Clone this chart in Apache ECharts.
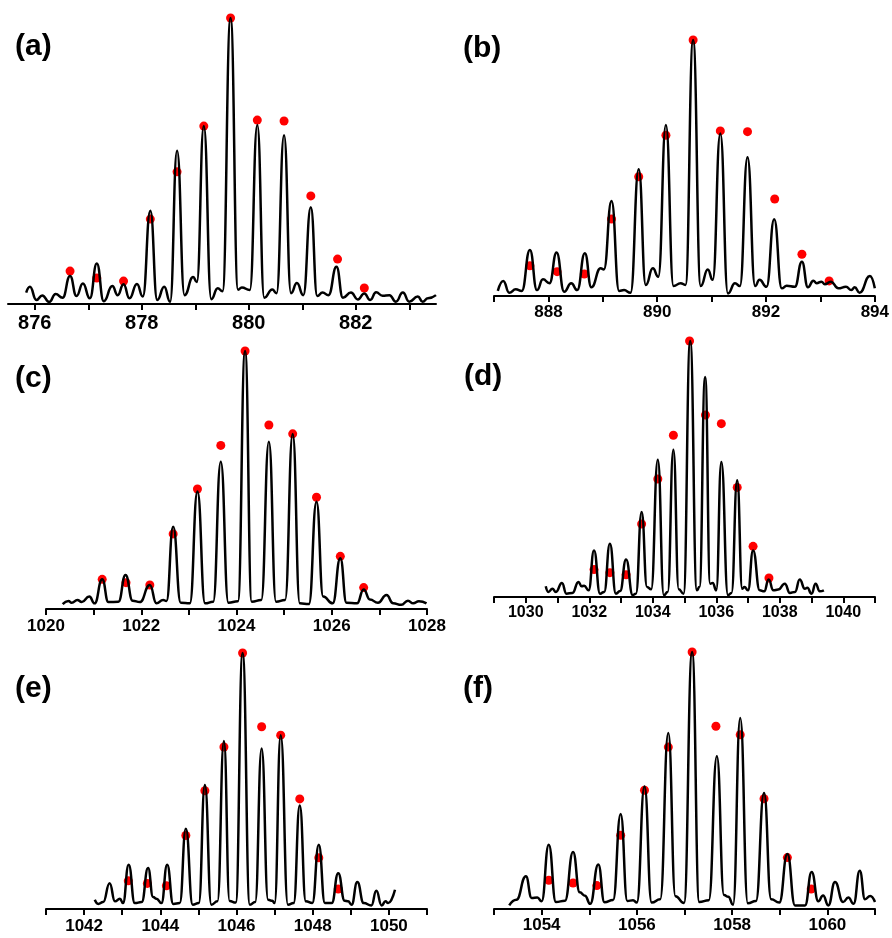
<!DOCTYPE html>
<html>
<head>
<meta charset="utf-8">
<script src="https://cdn.jsdelivr.net/npm/echarts@6/dist/echarts.min.js"></script>
<style>
html, body { margin: 0; padding: 0; background: #fff; }
#main { width: 892px; height: 938px; }
</style>
</head>
<body>
<div id="main"></div>
<script>
// measured spectra, intensity in % of the base peak of each panel
var traceA = [[875.84, 4.0], [875.91, 6.0], [876.03, 1.4], [876.14, 3.0], [876.27, 0.7], [876.39, 3.5], [876.52, 2.2], [876.66, 9.8], [876.78, 2.8], [876.90, 7.2], [877.03, 2.0], [877.16, 14.2], [877.29, 1.0], [877.45, 6.3], [877.55, 3.1], [877.66, 6.9], [877.77, 2.0], [877.91, 7.0], [878.02, 2.6], [878.16, 32.6], [878.29, 1.4], [878.42, 6.0], [878.53, 0.8], [878.66, 53.6], [878.80, 3.1], [878.96, 9.4], [879.03, 7.7], [879.16, 62.2], [879.30, 1.7], [879.42, 5.5], [879.51, 4.5], [879.66, 100], [879.80, 5.0], [879.87, 5.8], [880.02, 4.9], [880.16, 62.6], [880.29, 2.2], [880.44, 5.1], [880.52, 3.8], [880.66, 59.0], [880.79, 3.8], [880.90, 7.3], [881.02, 3.1], [881.16, 33.8], [881.28, 2.8], [881.38, 4.0], [881.49, 3.1], [881.64, 13.0], [881.76, 2.2], [881.91, 4.0], [882.04, 1.6], [882.16, 3.7], [882.27, 1.4], [882.38, 4.1], [882.50, 2.9], [882.63, 3.1], [882.75, 0.8], [882.88, 4.0], [883.00, 0.8], [883.16, 2.6], [883.25, 0.8], [883.35, 2.0], [883.50, 3.1]];
var dotsA = [[876.66, 11.5], [877.16, 9.1], [877.66, 8.0], [878.16, 29.7], [878.66, 46.2], [879.16, 62.2], [879.66, 100], [880.16, 64.3], [880.66, 64.0], [881.16, 37.8], [881.66, 15.7], [882.16, 5.6]];

var traceB = [[887.07, 2.0], [887.17, 5.9], [887.28, 1.3], [887.40, 2.6], [887.51, 2.0], [887.66, 18.0], [887.79, 2.3], [887.90, 6.5], [888.02, 5.0], [888.15, 17.0], [888.29, 1.7], [888.42, 5.0], [888.53, 2.3], [888.67, 16.7], [888.79, 3.4], [888.96, 10.8], [889.02, 10.4], [889.16, 37.1], [889.30, 2.0], [889.39, 2.3], [889.51, 1.3], [889.66, 49.5], [889.79, 4.3], [889.92, 10.8], [890.02, 7.5], [890.16, 66.8], [890.30, 3.9], [890.43, 5.0], [890.52, 4.3], [890.66, 100], [890.80, 3.9], [890.93, 10.4], [891.02, 6.3], [891.16, 63.5], [891.30, 1.0], [891.43, 5.0], [891.52, 3.9], [891.66, 54.2], [891.80, 3.9], [891.88, 6.3], [892.01, 3.6], [892.15, 30.0], [892.29, 3.0], [892.38, 4.0], [892.53, 3.6], [892.66, 13.4], [892.77, 3.4], [892.87, 6.0], [892.93, 5.0], [893.02, 5.6], [893.08, 4.6], [893.19, 5.6], [893.33, 3.0], [893.47, 3.6], [893.57, 2.3], [893.63, 3.4], [893.72, 1.3], [893.91, 7.8], [894.00, 3.0]];
var dotsB = [[887.66, 11.8], [888.16, 9.5], [888.66, 8.6], [889.16, 30.1], [889.66, 46.6], [890.16, 62.8], [890.66, 100], [891.16, 64.5], [891.66, 64.2], [892.16, 37.9], [892.66, 16.3], [893.16, 5.9]];

var traceC = [[1020.35, 1.9], [1020.47, 3.1], [1020.54, 2.4], [1020.66, 3.5], [1020.75, 2.7], [1020.91, 4.8], [1021.02, 2.2], [1021.18, 11.5], [1021.31, 2.7], [1021.52, 2.8], [1021.67, 13.2], [1021.82, 3.2], [1021.97, 2.7], [1022.18, 9.3], [1022.32, 2.2], [1022.46, 3.5], [1022.53, 3.1], [1022.67, 31.9], [1022.83, 2.4], [1023.02, 2.2], [1023.18, 45.5], [1023.34, 2.2], [1023.51, 2.8], [1023.67, 57.1], [1023.83, 2.4], [1024.03, 3.0], [1024.18, 100], [1024.32, 2.8], [1024.52, 3.5], [1024.68, 64.8], [1024.83, 2.8], [1025.02, 3.5], [1025.18, 67.8], [1025.33, 2.2], [1025.52, 1.9], [1025.68, 41.6], [1025.82, 4.8], [1026.02, 2.2], [1026.18, 19.7], [1026.31, 2.4], [1026.53, 2.2], [1026.67, 7.6], [1026.80, 3.7], [1026.97, 2.4], [1027.15, 5.4], [1027.29, 2.2], [1027.46, 1.6], [1027.60, 3.2], [1027.71, 2.2], [1027.83, 3.0], [1027.99, 2.2]];
var dotsC = [[1021.18, 11.5], [1021.68, 10.2], [1022.18, 9.3], [1022.67, 29.1], [1023.18, 46.5], [1023.67, 63.4], [1024.18, 100], [1024.68, 71.3], [1025.18, 67.9], [1025.68, 43.3], [1026.18, 20.4], [1026.67, 8.3]];

var traceD = [[1030.63, 4.2], [1030.71, 2.0], [1030.84, 3.2], [1030.95, 2.0], [1031.14, 5.5], [1031.28, 1.3], [1031.47, 1.6], [1031.66, 5.9], [1031.76, 4.2], [1031.84, 4.4], [1031.98, 2.6], [1032.15, 18.2], [1032.34, 1.3], [1032.47, 2.0], [1032.65, 20.8], [1032.84, 1.3], [1032.97, 2.3], [1033.16, 14.6], [1033.37, 0.7], [1033.47, 1.3], [1033.65, 33.2], [1033.82, 3.9], [1033.95, 3.0], [1034.16, 53.6], [1034.35, 0.7], [1034.47, 2.0], [1034.65, 57.5], [1034.82, 3.0], [1034.97, 1.3], [1035.18, 100], [1035.39, 2.6], [1035.47, 3.9], [1035.65, 85.9], [1035.81, 5.2], [1035.89, 5.5], [1036.00, 2.6], [1036.16, 52.7], [1036.37, 0.7], [1036.48, 1.6], [1036.66, 45.6], [1036.82, 3.2], [1036.89, 3.9], [1037.00, 2.6], [1037.16, 18.2], [1037.37, 2.6], [1037.51, 2.2], [1037.65, 6.8], [1037.80, 2.6], [1037.95, 2.9], [1038.16, 5.2], [1038.32, 1.6], [1038.48, 2.0], [1038.63, 6.8], [1038.79, 3.2], [1038.87, 3.6], [1039.00, 1.3], [1039.13, 5.2], [1039.26, 2.2], [1039.39, 2.6]];
var dotsD = [[1032.15, 10.7], [1032.65, 9.5], [1033.16, 8.7], [1033.65, 28.5], [1034.16, 46.1], [1034.65, 63.2], [1035.16, 100], [1035.66, 71.1], [1036.16, 67.7], [1036.66, 42.8], [1037.16, 19.8], [1037.66, 7.4]];

var traceE = [[1042.28, 3.6], [1042.37, 2.0], [1042.50, 2.7], [1042.67, 10.1], [1042.81, 3.0], [1042.94, 4.0], [1043.02, 2.3], [1043.17, 17.3], [1043.33, 2.3], [1043.51, 2.7], [1043.68, 16.0], [1043.81, 4.7], [1043.90, 4.0], [1044.03, 2.3], [1044.18, 17.3], [1044.34, 2.0], [1044.51, 2.3], [1044.67, 31.3], [1044.85, 1.7], [1045.01, 2.3], [1045.17, 48.4], [1045.34, 1.7], [1045.50, 3.0], [1045.67, 65.6], [1045.82, 3.1], [1045.98, 2.5], [1046.16, 100], [1046.35, 1.7], [1046.49, 2.7], [1046.66, 62.7], [1046.83, 3.6], [1046.94, 3.2], [1047.00, 2.3], [1047.16, 67.9], [1047.35, 1.7], [1047.50, 2.3], [1047.66, 40.4], [1047.82, 3.0], [1047.99, 2.3], [1048.16, 25.1], [1048.32, 2.3], [1048.50, 2.3], [1048.67, 14.0], [1048.84, 3.2], [1048.93, 3.0], [1049.02, 1.7], [1049.17, 10.5], [1049.34, 2.3], [1049.54, 1.4], [1049.67, 7.1], [1049.81, 1.4], [1049.91, 3.0], [1049.98, 2.3], [1050.16, 7.5]];
var dotsE = [[1043.16, 11.0], [1043.66, 10.0], [1044.16, 9.1], [1044.67, 28.7], [1045.17, 46.2], [1045.67, 63.3], [1046.16, 100], [1046.66, 71.2], [1047.16, 67.9], [1047.66, 43.0], [1048.16, 20.0], [1048.67, 7.8]];

var traceF = [[1053.32, 1.4], [1053.47, 3.6], [1053.67, 12.7], [1053.79, 4.3], [1053.91, 4.5], [1054.00, 3.0], [1054.15, 25.0], [1054.30, 2.7], [1054.49, 3.2], [1054.66, 22.2], [1054.80, 6.5], [1054.91, 5.2], [1055.02, 2.0], [1055.19, 17.3], [1055.32, 2.6], [1055.50, 3.5], [1055.66, 37.0], [1055.80, 3.1], [1055.92, 3.4], [1056.00, 2.5], [1056.16, 47.7], [1056.31, 2.5], [1056.49, 3.8], [1056.66, 68.5], [1056.81, 5.0], [1056.99, 2.3], [1057.16, 100], [1057.31, 2.7], [1057.51, 3.4], [1057.68, 59.4], [1057.83, 5.4], [1057.92, 4.8], [1058.02, 1.7], [1058.17, 74.3], [1058.33, 2.2], [1058.50, 3.1], [1058.67, 45.1], [1058.82, 3.8], [1058.99, 2.5], [1059.16, 21.4], [1059.32, 1.4], [1059.53, 1.4], [1059.67, 14.4], [1059.81, 3.0], [1059.91, 5.3], [1060.02, 1.4], [1060.16, 10.5], [1060.33, 2.7], [1060.44, 4.5], [1060.55, 2.0], [1060.68, 14.9], [1060.79, 3.8], [1060.90, 5.1], [1061.00, 2.7]];
var dotsF = [[1054.15, 11.2], [1054.66, 10.1], [1055.16, 9.1], [1055.66, 28.7], [1056.16, 46.2], [1056.66, 63.0], [1057.16, 100], [1057.66, 71.1], [1058.17, 67.8], [1058.67, 42.9], [1059.16, 20.0], [1059.66, 7.8]];

// x axis ticks and labels
var ticksA = [876, 877, 878, 879, 880, 881, 882, 883];
var labelsA = [876, 878, 880, 882];
var ticksB = [887, 888, 889, 890, 891, 892, 893, 894];
var labelsB = [888, 890, 892, 894];
var ticksC = [1020, 1021, 1022, 1023, 1024, 1025, 1026, 1027, 1028];
var labelsC = [1020, 1022, 1024, 1026, 1028];
var ticksD = [1029, 1030, 1031, 1032, 1033, 1034, 1035, 1036, 1037, 1038, 1039, 1040, 1041];
var labelsD = [1030, 1032, 1034, 1036, 1038, 1040];
var ticksE = [1041, 1042, 1043, 1044, 1045, 1046, 1047, 1048, 1049, 1050, 1051];
var labelsE = [1042, 1044, 1046, 1048, 1050];
var ticksF = [1053, 1054, 1055, 1056, 1057, 1058, 1059, 1060, 1061];
var labelsF = [1054, 1056, 1058, 1060];

var panelNames = ['(a)', '(b)', '(c)', '(d)', '(e)', '(f)'];
var traces = [traceA, traceB, traceC, traceD, traceE, traceF];
var dots = [dotsA, dotsB, dotsC, dotsD, dotsE, dotsF];
var ticks = [ticksA, ticksB, ticksC, ticksD, ticksE, ticksF];
var labels = [labelsA, labelsB, labelsC, labelsD, labelsE, labelsF];

// panel boxes (pixels) and axis ranges
var boxes = [
    { left: 8, top: 18, width: 428, height: 286, min: 875.5, max: 883.5, font: 20, margin: 9, tx: 15, ty: 32 },
    { left: 494, top: 40, width: 381, height: 256, min: 887, max: 894, font: 17, margin: 8, tx: 463, ty: 34 },
    { left: 46, top: 351, width: 381, height: 258, min: 1020, max: 1028, font: 17, margin: 9, tx: 15, ty: 364 },
    { left: 494, top: 341, width: 381, height: 256, min: 1029, max: 1041, font: 16, margin: 8, tx: 464, ty: 362 },
    { left: 46, top: 653, width: 381, height: 256, min: 1041, max: 1051, font: 17, margin: 9, tx: 15, ty: 674 },
    { left: 494, top: 652, width: 381, height: 257, min: 1053, max: 1061, font: 17, margin: 8, tx: 463, ty: 674 }
];

var chart = echarts.init(document.getElementById('main'));

var grid = [];
var xAxis = [];
var yAxis = [];
var series = [];
var graphic = [];

boxes.forEach(function (b, i) {
    grid.push({ left: b.left, top: b.top, width: b.width, height: b.height });
    xAxis.push({
        gridIndex: i,
        type: 'value',
        min: b.min,
        max: b.max,
        axisLine: { onZero: false, lineStyle: { color: '#000', width: 2 } },
        axisTick: { customValues: ticks[i], length: 6, lineStyle: { color: '#000', width: 2 } },
        axisLabel: {
            customValues: labels[i],
            formatter: function (v) { return String(v); },
            color: '#000',
            fontSize: b.font,
            fontWeight: 'bold',
            fontFamily: 'Liberation Sans',
            margin: b.margin
        },
        splitLine: { show: false }
    });
    yAxis.push({ gridIndex: i, type: 'value', min: 0, max: 100, show: false });
    series.push({
        type: 'line',
        xAxisIndex: i,
        yAxisIndex: i,
        data: traces[i],
        smooth: 0.5,
        smoothMonotone: 'x',
        symbol: 'none',
        clip: false,
        lineStyle: { color: '#000', width: 2.5 }
    });
    series.push({
        type: 'scatter',
        xAxisIndex: i,
        yAxisIndex: i,
        data: dots[i],
        symbolSize: 9,
        itemStyle: { color: '#ff0000', opacity: 1 }
    });
    graphic.push({
        type: 'text',
        left: b.tx,
        top: b.ty,
        style: { text: panelNames[i], font: 'bold 30px "Liberation Sans"', fill: '#000' }
    });
});

chart.setOption({
    backgroundColor: '#fff',
    animation: false,
    grid: grid,
    xAxis: xAxis,
    yAxis: yAxis,
    series: series,
    graphic: graphic
});
</script>
</body>
</html>
